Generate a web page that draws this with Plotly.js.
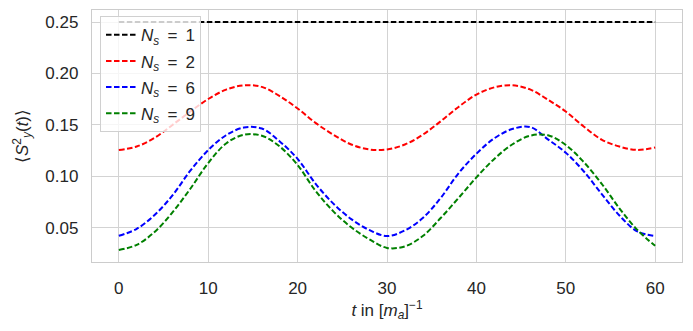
<!DOCTYPE html>
<html>
<head>
<meta charset="utf-8">
<script src="https://cdn.plot.ly/plotly-3.0.1.min.js"></script>
<style>
    html, body { margin: 0; padding: 0; background: #ffffff; }
    #chart { width: 693px; height: 331px; }
</style>
</head>
<body>
<div id="chart"></div>
<script>
// Time axis (in units of [m_a]^-1), sampled every 2
const timeSteps = [0, 2, 4, 6, 8, 10, 12, 14, 16, 18, 20, 22, 24, 26, 28, 30,
    32, 34, 36, 38, 40, 42, 44, 46, 48, 50, 52, 54, 56, 58, 60];

// N_s = 1 stays flat
const ns1Time = [0, 60];
const ns1Values = [0.25, 0.25];

// N_s = 2
const ns2Values = [0.1257, 0.1290, 0.1375, 0.1500, 0.1630, 0.1752, 0.1843, 0.1885,
    0.1870, 0.1780, 0.1660, 0.1520, 0.1405, 0.1310, 0.1262, 0.1262,
    0.1310, 0.1405, 0.1535, 0.1675, 0.1795, 0.1865, 0.1885, 0.1845,
    0.1745, 0.1630, 0.1485, 0.1358, 0.1290, 0.1257, 0.1280];

// N_s = 6
const ns6Values = [0.0423, 0.0490, 0.0625, 0.0815, 0.1055, 0.1255, 0.1400, 0.1475,
    0.1465, 0.1340, 0.1170, 0.0930, 0.0735, 0.0585, 0.0480, 0.0420,
    0.0475, 0.0595, 0.0790, 0.1030, 0.1220, 0.1370, 0.1460, 0.1480,
    0.1360, 0.1230, 0.1050, 0.0830, 0.0620, 0.0465, 0.0420];

// N_s = 9
const ns9Values = [0.0285, 0.0335, 0.0460, 0.0650, 0.0880, 0.1130, 0.1320, 0.1405,
    0.1395, 0.1290, 0.1110, 0.0860, 0.0660, 0.0505, 0.0390, 0.0305,
    0.0320, 0.0420, 0.0595, 0.0790, 0.0990, 0.1170, 0.1310, 0.1395,
    0.1400, 0.1305, 0.1140, 0.0930, 0.0690, 0.0480, 0.0325];

const legendLabels = ['1', '2', '6', '9'];

const xTicks = [0, 10, 20, 30, 40, 50, 60];
const yTicks = [0.05, 0.10, 0.15, 0.20, 0.25];

const DASH = '5.5px,2.5px';
const FONT = "'Liberation Sans', Arial, sans-serif";
const TEXT_COLOR = '#262626';

// mathtext-like spacing around "="
const nsLabel = n => '<i>N<sub>s</sub></i> \u2009=\u2009 ' + n;

function dashedTrace(x, y, color, label, group) {
    return {
        x: x,
        y: y,
        type: 'scatter',
        mode: 'lines',
        line: { color: color, width: 2, dash: DASH, shape: 'spline', smoothing: 1 },
        name: label,
        legendgroup: group,
        hoverinfo: 'skip',
    };
}

const traces = [
    dashedTrace(ns1Time, ns1Values, '#000000', nsLabel(legendLabels[0]), 'g1'),
    dashedTrace(timeSteps, ns2Values, '#ff0000', nsLabel(legendLabels[1]), 'g2'),
    dashedTrace(timeSteps, ns6Values, '#0000ff', nsLabel(legendLabels[2]), 'g6'),
    dashedTrace(timeSteps, ns9Values, '#008000', nsLabel(legendLabels[3]), 'g9'),
];

const layout = {
    width: 693,
    height: 331,
    margin: { l: 92, r: 11, t: 10, b: 69 },
    paper_bgcolor: '#ffffff',
    plot_bgcolor: '#ffffff',
    font: { family: FONT, size: 17, color: TEXT_COLOR },
    showlegend: true,
    legend: {
        x: 0.0136,
        y: 0.975,
        xanchor: 'left',
        yanchor: 'top',
        bgcolor: 'rgba(255,255,255,0.8)',
        bordercolor: '#d0d0d0',
        borderwidth: 1,
        font: { family: FONT, size: 17, color: TEXT_COLOR },
        traceorder: 'grouped',
        tracegroupgap: 1,
        itemwidth: 30,
    },
    xaxis: {
        range: [-3, 63],
        tickvals: xTicks,
        ticktext: xTicks.map(String),
        showgrid: true,
        gridcolor: '#d3d3d3',
        gridwidth: 1,
        zeroline: false,
        showline: true,
        mirror: true,
        linecolor: '#cccccc',
        linewidth: 1.25,
        ticks: '',
        ticklabelstandoff: 10,
        tickfont: { size: 17, color: TEXT_COLOR },
        title: { text: '<i>t</i> in [<i>m<sub>a</sub></i>]<sup>−1</sup>', font: { size: 17 }, standoff: 6 },
    },
    yaxis: {
        range: [0.0168, 0.2617],
        tickvals: yTicks,
        ticktext: yTicks.map(v => v.toFixed(2)),
        showgrid: true,
        gridcolor: '#d3d3d3',
        gridwidth: 1,
        zeroline: false,
        showline: true,
        mirror: true,
        linecolor: '#cccccc',
        linewidth: 1.25,
        ticks: '',
        ticklabelstandoff: 9,
        tickfont: { size: 17, color: TEXT_COLOR },
        title: { text: '⟨<i>S</i><sup>2</sup><sub><i>y</i></sub>(<i>t</i>)⟩', font: { size: 17 }, standoff: 12 },
    },
};

Plotly.newPlot('chart', traces, layout, { displayModeBar: false, staticPlot: true });
</script>
</body>
</html>
